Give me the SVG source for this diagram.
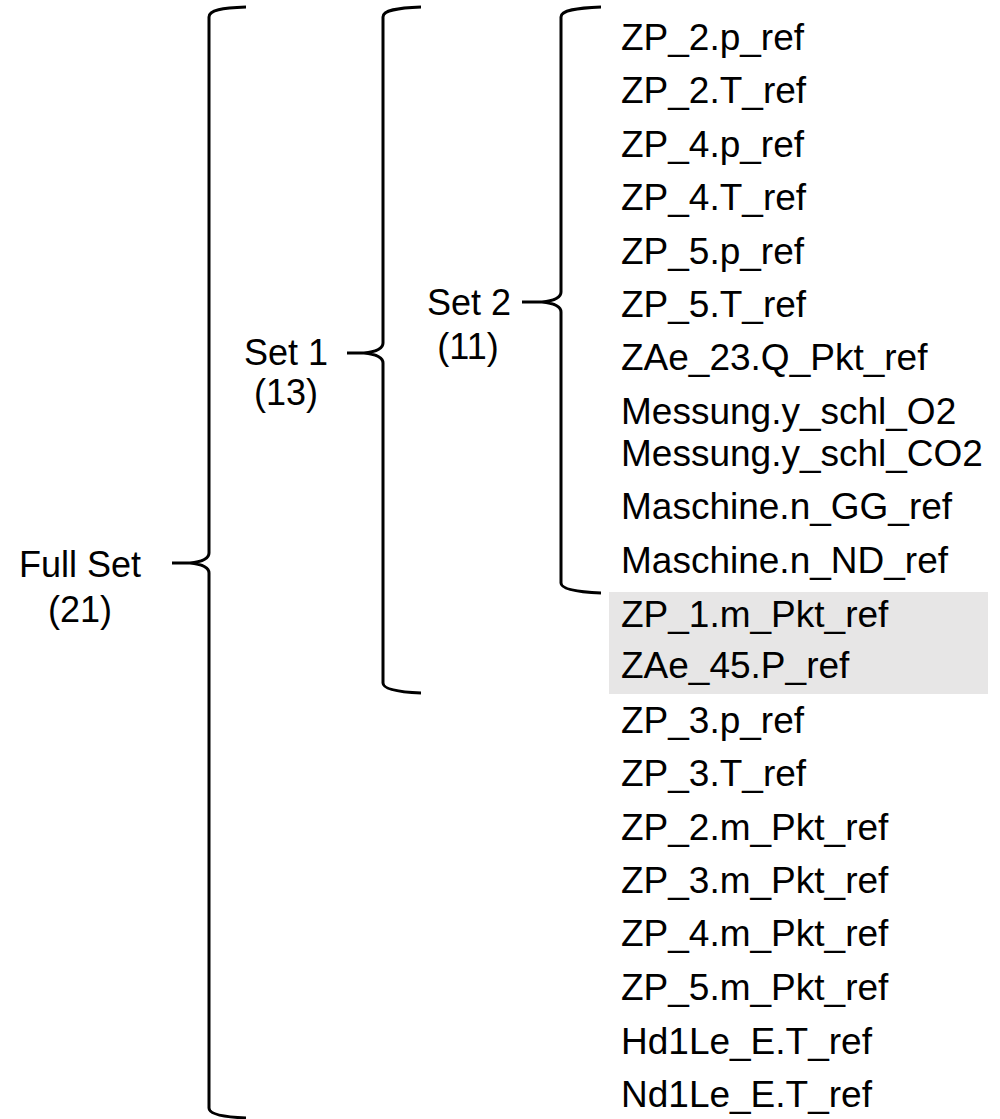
<svg xmlns="http://www.w3.org/2000/svg" width="1000" height="1119" viewBox="0 0 1000 1119">
<style>
.t{font-family:"Liberation Sans",Arial,sans-serif;font-size:36px;fill:#000}
.i{font-family:"Liberation Sans",Arial,sans-serif;font-size:37px;fill:#000}
.b{fill:none;stroke:#000;stroke-width:3;stroke-linecap:butt}
</style>
<rect width="1000" height="1119" fill="#fff"/>
<rect x="609" y="592" width="379" height="102" fill="#e7e6e6"/>
<g id="connectors">
<path class="b" d="M246,7 C222,8 209,10 209,17 L209,553 C209,559 200,562 190,563 L172,563 M190,563 C200,564 209,567 209,573 L209,1108 C209,1114 222,1117 246,1118"/>
<path class="b" d="M421,7 C397,8 383,10 383,17 L383,343 C383,349 374,352 364,353 L347,353 M364,353 C374,354 383,357 383,363 L383,683 C383,689 397,692 421,693"/>
<path class="b" d="M601,7 C577,8 561,10 561,17 L561,292 C561,298 552,301 542,302 L522,302 M542,302 C552,303 561,306 561,312 L561,583 C561,589 577,592 601,593"/>
</g>
<g id="full"><text class="t" x="80" y="577" text-anchor="middle">Full Set</text><text class="t" x="80" y="622" text-anchor="middle">(21)</text></g>
<g id="set1"><text class="t" x="286" y="365" text-anchor="middle">Set 1</text><text class="t" x="286" y="405" text-anchor="middle">(13)</text></g>
<g id="set2"><text class="t" x="469" y="315" text-anchor="middle">Set 2</text><text class="t" x="468" y="359" text-anchor="middle">(11)</text></g>
<g id="items">
<text class="i" x="621" y="50">ZP_2.p_ref</text>
<text class="i" x="621" y="103">ZP_2.T_ref</text>
<text class="i" x="621" y="157">ZP_4.p_ref</text>
<text class="i" x="621" y="210">ZP_4.T_ref</text>
<text class="i" x="621" y="264">ZP_5.p_ref</text>
<text class="i" x="621" y="317">ZP_5.T_ref</text>
<text class="i" x="621" y="370">ZAe_23.Q_Pkt_ref</text>
<text class="i" x="621" y="424">Messung.y_schl_O2</text>
<text class="i" x="621" y="466">Messung.y_schl_CO2</text>
<text class="i" x="621" y="519">Maschine.n_GG_ref</text>
<text class="i" x="621" y="573">Maschine.n_ND_ref</text>
<text class="i" x="621" y="627">ZP_1.m_Pkt_ref</text>
<text class="i" x="621" y="678">ZAe_45.P_ref</text>
<text class="i" x="621" y="733">ZP_3.p_ref</text>
<text class="i" x="621" y="786">ZP_3.T_ref</text>
<text class="i" x="621" y="840">ZP_2.m_Pkt_ref</text>
<text class="i" x="621" y="893">ZP_3.m_Pkt_ref</text>
<text class="i" x="621" y="946">ZP_4.m_Pkt_ref</text>
<text class="i" x="621" y="1000">ZP_5.m_Pkt_ref</text>
<text class="i" x="621" y="1054">Hd1Le_E.T_ref</text>
<text class="i" x="621" y="1107">Nd1Le_E.T_ref</text>
</g>
</svg>
